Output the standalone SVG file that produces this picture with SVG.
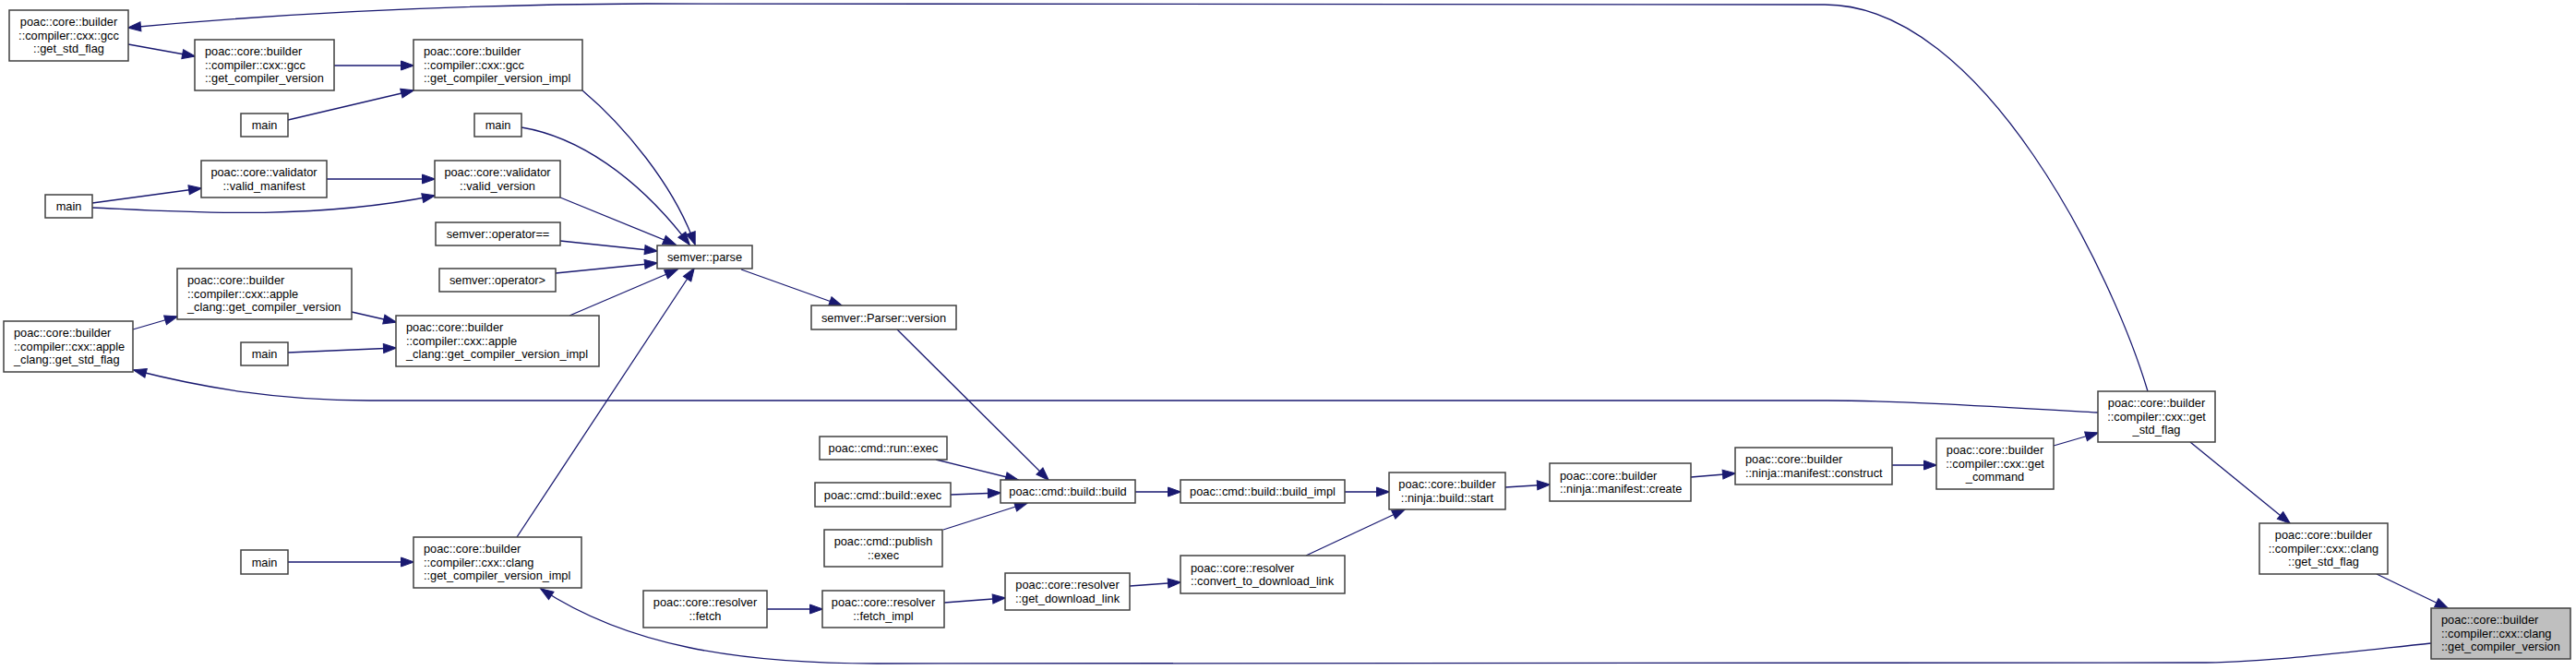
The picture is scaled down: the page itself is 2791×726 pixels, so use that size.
<svg xmlns="http://www.w3.org/2000/svg" width="2791" height="726" viewBox="0 0 2791 726">
<style>
.n rect{fill:#ffffff;stroke:#404040;stroke-width:1.5}
.n.hl rect{fill:#bfbfbf}
text{font-family:"Liberation Sans",Arial,Helvetica,sans-serif;font-size:12.8px;fill:#000}
.c{text-anchor:middle}
.e path{fill:none;stroke:#191970;stroke-width:1.3;marker-end:url(#ah)}
</style>
<defs>
<marker id="ah" markerUnits="userSpaceOnUse" markerWidth="15" markerHeight="11" refX="13.5" refY="5" orient="auto" overflow="visible">
<path d="M0,0 L14,5 L0,10 z" fill="#191970" stroke="#191970" stroke-width="1"/>
</marker>
</defs>
<rect width="2791" height="726" fill="#ffffff"/>
<g id="connectors" class="e">
<path d="M139,48 L211,61"/>
<path d="M362,71 L448,71"/>
<path d="M312,130 L448,98"/>
<path d="M100,220 L218,204"/>
<path d="M100,225 C190,229 330,240 471,212"/>
<path d="M354,194 L471,194"/>
<path d="M144,357 L192,343"/>
<path d="M381,338 L429,349"/>
<path d="M312,382 L429,377"/>
<path d="M631,98 C675,135 730,200 753,265"/>
<path d="M565,138 C625,148 690,190 747,265"/>
<path d="M607,214 L732,265"/>
<path d="M607,261 L712,272"/>
<path d="M602,296 L712,285"/>
<path d="M617,342 L734,292"/>
<path d="M560,582 L752,291"/>
<path d="M803,292 L912,331"/>
<path d="M972,357 L1136,520"/>
<path d="M1014,498 L1103,520"/>
<path d="M1030,536 L1084,534"/>
<path d="M1022,574 L1113,545"/>
<path d="M1230,533 L1279,533"/>
<path d="M1457,533 L1505,533"/>
<path d="M1415,602 L1522,552"/>
<path d="M1224,635 L1279,631"/>
<path d="M1023,653 L1089,648"/>
<path d="M831,660 L891,660"/>
<path d="M312,609 L448,609"/>
<path d="M1631,528 L1679,525"/>
<path d="M1832,517 L1880,513"/>
<path d="M2050,504 L2098,504"/>
<path d="M2225,483 L2273,469"/>
<path d="M2373,479 L2481,567"/>
<path d="M2575,622 L2652,659"/>
<path d="M2634,697 C2530,708 2450,718 2380,718 L950,719 C800,719 680,700 586,638"/>
<path d="M2327,424 C2290,300 2150,5 1977,5 L700,4 C500,5 300,15 139,30"/>
<path d="M2273,447 C2150,440 2050,434 1980,434 L400,434 C300,434 220,420 145,401"/>
</g>
<g id="gcc_get_std_flag" class="n"><rect x="10" y="11" width="129" height="55"/><text class="c" x="74.5" y="28">poac::core::builder</text><text class="c" x="74.5" y="42.5">::compiler::cxx::gcc</text><text class="c" x="74.5" y="57">::get_std_flag</text></g>
<g id="gcc_get_compiler_version" class="n"><rect x="211" y="43" width="151" height="55"/><text x="222" y="60">poac::core::builder</text><text x="222" y="74.5">::compiler::cxx::gcc</text><text x="222" y="89">::get_compiler_version</text></g>
<g id="gcc_get_compiler_version_impl" class="n"><rect x="448" y="43" width="183" height="55"/><text x="459" y="60">poac::core::builder</text><text x="459" y="74.5">::compiler::cxx::gcc</text><text x="459" y="89">::get_compiler_version_impl</text></g>
<g id="main_a" class="n"><rect x="261" y="123" width="51" height="25"/><text class="c" x="286.5" y="140">main</text></g>
<g id="main_b" class="n"><rect x="514" y="123" width="51" height="25"/><text class="c" x="539.5" y="140">main</text></g>
<g id="valid_manifest" class="n"><rect x="218" y="174" width="136" height="40"/><text class="c" x="286" y="191">poac::core::validator</text><text class="c" x="286" y="205.5">::valid_manifest</text></g>
<g id="valid_version" class="n"><rect x="471" y="174" width="136" height="40"/><text class="c" x="539" y="191">poac::core::validator</text><text class="c" x="539" y="205.5">::valid_version</text></g>
<g id="main_c" class="n"><rect x="49" y="211" width="51" height="25"/><text class="c" x="74.5" y="228">main</text></g>
<g id="semver_operator_eq" class="n"><rect x="472" y="241" width="135" height="25"/><text class="c" x="539.5" y="258">semver::operator==</text></g>
<g id="semver_operator_gt" class="n"><rect x="476" y="291" width="126" height="25"/><text class="c" x="539" y="308">semver::operator&gt;</text></g>
<g id="apple_clang_get_compiler_version" class="n"><rect x="192" y="291" width="189" height="55"/><text x="203" y="308">poac::core::builder</text><text x="203" y="322.5">::compiler::cxx::apple</text><text x="203" y="337">_clang::get_compiler_version</text></g>
<g id="apple_clang_get_std_flag" class="n"><rect x="4" y="348" width="140" height="55"/><text x="15" y="365">poac::core::builder</text><text x="15" y="379.5">::compiler::cxx::apple</text><text x="15" y="394">_clang::get_std_flag</text></g>
<g id="main_d" class="n"><rect x="261" y="371" width="51" height="25"/><text class="c" x="286.5" y="388">main</text></g>
<g id="apple_clang_get_compiler_version_impl" class="n"><rect x="429" y="342" width="220" height="55"/><text x="440" y="359">poac::core::builder</text><text x="440" y="373.5">::compiler::cxx::apple</text><text x="440" y="388">_clang::get_compiler_version_impl</text></g>
<g id="semver_parse" class="n"><rect x="712" y="266" width="103" height="25"/><text class="c" x="763.5" y="283">semver::parse</text></g>
<g id="semver_parser_version" class="n"><rect x="879" y="331" width="157" height="26"/><text class="c" x="957.5" y="348.5">semver::Parser::version</text></g>
<g id="cmd_run_exec" class="n"><rect x="888" y="473" width="138" height="25"/><text class="c" x="957" y="490">poac::cmd::run::exec</text></g>
<g id="cmd_build_exec" class="n"><rect x="883" y="523" width="147" height="26"/><text class="c" x="956.5" y="540.5">poac::cmd::build::exec</text></g>
<g id="cmd_publish_exec" class="n"><rect x="893" y="574" width="128" height="40"/><text class="c" x="957" y="591">poac::cmd::publish</text><text class="c" x="957" y="605.5">::exec</text></g>
<g id="cmd_build_build" class="n"><rect x="1084" y="520" width="146" height="25"/><text class="c" x="1157" y="537">poac::cmd::build::build</text></g>
<g id="cmd_build_build_impl" class="n"><rect x="1279" y="520" width="178" height="25"/><text class="c" x="1368" y="537">poac::cmd::build::build_impl</text></g>
<g id="ninja_build_start" class="n"><rect x="1505" y="512" width="126" height="40"/><text class="c" x="1568" y="529">poac::core::builder</text><text class="c" x="1568" y="543.5">::ninja::build::start</text></g>
<g id="resolver_fetch_impl" class="n"><rect x="891" y="640" width="132" height="40"/><text class="c" x="957" y="657">poac::core::resolver</text><text class="c" x="957" y="671.5">::fetch_impl</text></g>
<g id="resolver_get_download_link" class="n"><rect x="1089" y="621" width="135" height="40"/><text class="c" x="1156.5" y="638">poac::core::resolver</text><text class="c" x="1156.5" y="652.5">::get_download_link</text></g>
<g id="resolver_convert_to_download_link" class="n"><rect x="1279" y="602" width="178" height="41"/><text x="1290" y="619.5">poac::core::resolver</text><text x="1290" y="634">::convert_to_download_link</text></g>
<g id="main_e" class="n"><rect x="261" y="596" width="51" height="26"/><text class="c" x="286.5" y="613.5">main</text></g>
<g id="clang_get_compiler_version_impl" class="n"><rect x="448" y="582" width="182" height="55"/><text x="459" y="599">poac::core::builder</text><text x="459" y="613.5">::compiler::cxx::clang</text><text x="459" y="628">::get_compiler_version_impl</text></g>
<g id="resolver_fetch" class="n"><rect x="697" y="640" width="134" height="40"/><text class="c" x="764" y="657">poac::core::resolver</text><text class="c" x="764" y="671.5">::fetch</text></g>
<g id="ninja_manifest_create" class="n"><rect x="1679" y="502" width="153" height="41"/><text x="1690" y="519.5">poac::core::builder</text><text x="1690" y="534">::ninja::manifest::create</text></g>
<g id="ninja_manifest_construct" class="n"><rect x="1880" y="485" width="170" height="40"/><text x="1891" y="502">poac::core::builder</text><text x="1891" y="516.5">::ninja::manifest::construct</text></g>
<g id="cxx_get_command" class="n"><rect x="2098" y="475" width="127" height="55"/><text class="c" x="2161.5" y="492">poac::core::builder</text><text class="c" x="2161.5" y="506.5">::compiler::cxx::get</text><text class="c" x="2161.5" y="521">_command</text></g>
<g id="cxx_get_std_flag" class="n"><rect x="2273" y="424" width="127" height="55"/><text class="c" x="2336.5" y="441">poac::core::builder</text><text class="c" x="2336.5" y="455.5">::compiler::cxx::get</text><text class="c" x="2336.5" y="470">_std_flag</text></g>
<g id="clang_get_std_flag" class="n"><rect x="2448" y="567" width="139" height="55"/><text class="c" x="2517.5" y="584">poac::core::builder</text><text class="c" x="2517.5" y="598.5">::compiler::cxx::clang</text><text class="c" x="2517.5" y="613">::get_std_flag</text></g>
<g id="clang_get_compiler_version" class="n hl"><rect x="2634" y="659" width="151" height="55"/><text x="2645" y="676">poac::core::builder</text><text x="2645" y="690.5">::compiler::cxx::clang</text><text x="2645" y="705">::get_compiler_version</text></g>
</svg>
